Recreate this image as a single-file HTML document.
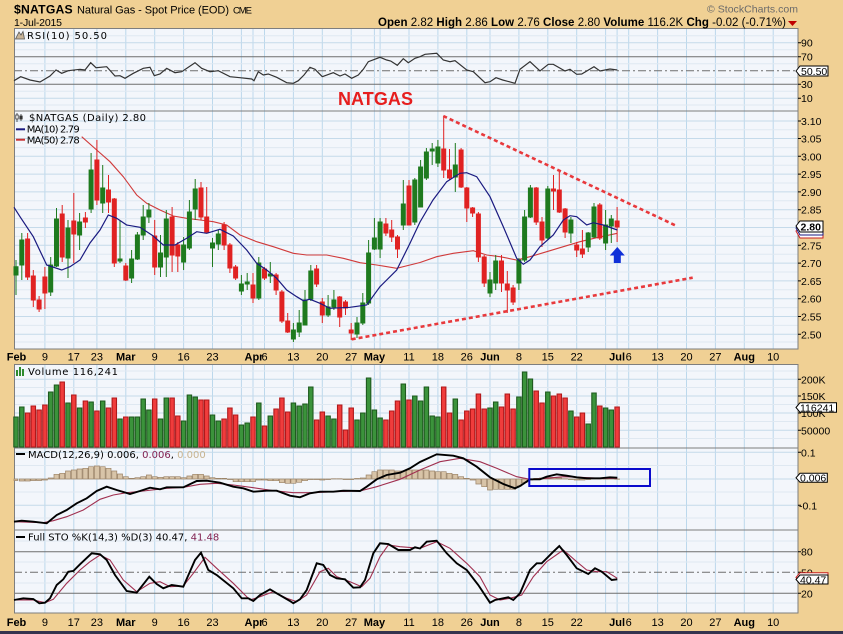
<!DOCTYPE html>
<html><head><meta charset="utf-8"><style>
html,body{margin:0;padding:0;background:#F0D094;}
svg{display:block;}
.ax{font-family:"Liberation Sans",Arial,sans-serif;font-size:10.5px;fill:#000;}
.lg{font-family:"DejaVu Sans","Liberation Sans",sans-serif;font-size:10px;fill:#000;}
.dt{font-family:"Liberation Sans",Arial,sans-serif;font-size:11px;fill:#000;text-anchor:middle;}
.mo{font-weight:bold;}
</style></head><body>
<svg width="843" height="634" viewBox="0 0 843 634" xmlns="http://www.w3.org/2000/svg">
<rect x="0" y="0" width="843" height="634" fill="#F0D094"/>
<!-- panel backgrounds -->
<g fill="#F3F6FB">
<rect x="14" y="28" width="784" height="83"/>
<rect x="14" y="111" width="784" height="238"/>
<rect x="14" y="364" width="784" height="84"/>
<rect x="14" y="448" width="784" height="82"/>
<rect x="14" y="530" width="784" height="83"/>
</g>
<!-- vertical grid -->
<g stroke="#BCD8EC" stroke-width="1">
<path d="M44.9 28V349M73.8 28V349M96.9 28V349M125.8 28V349M154.7 28V349M183.6 28V349M212.5 28V349M241.4 28V349M253 28V349M264.5 28V349M293.4 28V349M322.3 28V349M351.2 28V349M374.4 28V349M380.1 28V349M409 28V349M437.9 28V349M466.8 28V349M490 28V349M518.9 28V349M547.8 28V349M576.7 28V349M605.6 28V349M617.1 28V349M628.7 28V349M657.6 28V349M686.5 28V349M715.4 28V349M744.3 28V349M773.2 28V349"/>
<path d="M44.9 364V613M73.8 364V613M96.9 364V613M125.8 364V613M154.7 364V613M183.6 364V613M212.5 364V613M241.4 364V613M253 364V613M264.5 364V613M293.4 364V613M322.3 364V613M351.2 364V613M374.4 364V613M380.1 364V613M409 364V613M437.9 364V613M466.8 364V613M490 364V613M518.9 364V613M547.8 364V613M576.7 364V613M605.6 364V613M617.1 364V613M628.7 364V613M657.6 364V613M686.5 364V613M715.4 364V613M744.3 364V613M773.2 364V613"/>
</g>
<!-- horizontal minor grid -->
<g stroke="#DFE8F1" stroke-width="1">
<path d="M14 35.7H798M14 49.7H798M14 63.7H798M14 77.5H798M14 91.3H798M14 105H798"/>
<path d="M14 129.8H798M14 147.6H798M14 165.2H798M14 183H798M14 200.8H798M14 218.6H798M14 236.4H798M14 254.2H798M14 272H798M14 289.8H798M14 307.6H798M14 325.4H798M14 342H798"/>
<path d="M14 371H798M14 387.5H798M14 404.5H798M14 421.5H798M14 438.5H798M14 465.5H798M14 492H798M14 518H798M14 541H798M14 562H798M14 583H798M14 603H798"/>
</g>
<g stroke="#C5DAEA" stroke-width="1">
<path d="M14 42.7H798M14 98.3H798"/>
<path d="M14 121H798M14 138.5H798M14 156.3H798M14 174.1H798M14 191.9H798M14 209.7H798M14 227.5H798M14 245.3H798M14 263.1H798M14 280.9H798M14 298.7H798M14 316.5H798M14 334.3H798"/>
<path d="M14 379.3H798M14 396H798M14 413H798M14 430.3H798M14 452.3H798M14 479H798M14 505.3H798"/>
</g>
<!-- RSI/STO level lines -->
<g stroke="#6E6E6E" stroke-width="1">
<path d="M14 56.7H798M14 84.3H798M14 551.7H798M14 593.3H798"/>
</g>
<g stroke="#6E6E6E" stroke-width="1" stroke-dasharray="8,3,2,3">
<path d="M14 70.7H798M14 572.3H798"/>
</g>
<!-- panel borders -->
<g fill="none" stroke="#7E7E7E" stroke-width="1">
<rect x="14.5" y="28.5" width="783.5" height="82.5"/>
<rect x="14.5" y="111" width="783.5" height="238"/>
<rect x="14.5" y="364.5" width="783.5" height="83.5"/>
<rect x="14.5" y="448" width="783.5" height="82"/>
<rect x="14.5" y="530" width="783.5" height="83"/>
</g>

<!-- HEADER -->
<text x="14" y="13.5" font-family="Liberation Sans, Arial, sans-serif" font-size="12.2" font-weight="bold" textLength="58.7">$NATGAS</text>
<text x="77" y="13.5" font-family="Liberation Sans, Arial, sans-serif" font-size="11" textLength="152">Natural Gas - Spot Price (EOD)</text>
<text x="233" y="13.5" font-family="Liberation Sans, Arial, sans-serif" font-size="9.5" textLength="19">CME</text>
<text x="14" y="26" font-family="Liberation Sans, Arial, sans-serif" font-size="10.5" textLength="48">1-Jul-2015</text>
<text x="707" y="12.5" font-family="Liberation Sans, Arial, sans-serif" font-size="10.5" fill="#6a6a6a" textLength="91">© StockCharts.com</text>
<text x="378" y="26" font-family="Liberation Sans, Arial, sans-serif" font-size="11.5" textLength="408" lengthAdjust="spacing"><tspan font-weight="bold">Open</tspan> 2.82 <tspan font-weight="bold">High</tspan> 2.86 <tspan font-weight="bold">Low</tspan> 2.76 <tspan font-weight="bold">Close</tspan> 2.80 <tspan font-weight="bold">Volume</tspan> 116.2K <tspan font-weight="bold">Chg</tspan> -0.02 (-0.71%)</text>
<polygon points="788,21 797,21 792.5,26" fill="#C00000"/>

<!-- RSI PANEL -->
<path d="M15.5 39L19 32L21 35L23 31.5L24.5 39Z" fill="#C8B498" stroke="#555" stroke-width="0.8"/>
<text class="lg" x="27" y="39" textLength="80">RSI(10) 50.50</text>
<polyline fill="none" stroke="#333" stroke-width="1.2" points="14,80.7 20.7,76.7 30,80 40,82 50,76 56,70 61.7,73.3 68.3,70.7 80,69.3 85,70 90.7,62.7 96,67.7 106.7,66.7 115,76 120,75.7 125,78.3 133.3,73.3 143.3,68.3 150,67.3 154.3,75.7 160,74 166.7,68.3 175,72.7 181.7,71.7 195,62.7 201.7,68.3 210,71.7 218.3,70.7 230,76.7 240,77.7 251.7,79 254,80.7 258.3,71.7 263.3,75 268.3,74 276.7,77.3 286.7,82.7 293.3,83.3 298.3,80.7 304,75 310,67.3 315,69.3 322.3,76.7 333.3,72.7 340,76 345,74 351.7,78.3 358.3,75 363.3,69.3 368.3,61.7 380,57.3 386.7,60 390.7,61 397.3,65.3 403.3,58.7 408.3,62.7 415,58.3 420,56.7 425,54.3 436.7,53.3 443.3,60 450,61.7 455,60.7 466.7,70 473.3,71.7 485,82.7 490,81.7 496,77.7 502.7,80 515,83.3 520,69.3 530,61.7 540,71 548.3,64.3 553.3,64.3 565,71 570,69.3 576.7,74.3 581.7,74 594,66.7 600,71 610,69 617.3,70"/>
<text x="338" y="105" font-family="Liberation Sans, Arial, sans-serif" font-size="18" font-weight="bold" fill="#E61E1E" textLength="75">NATGAS</text>
<g class="ax"><text x="801" y="46.5">90</text><text x="801" y="60.5">70</text><text x="801" y="88">30</text><text x="801" y="102">10</text></g>
<g stroke="#000"><path d="M798 42.7h3M798 56.7h3M798 84.3h3M798 98.3h3"/></g>
<polygon points="796,71 800,66 828,66 828,76 800,76" fill="#fff" stroke="#000" stroke-width="1"/>
<text class="ax" x="801" y="75">50.50</text>

<!-- PRICE PANEL -->
<g stroke="#333" stroke-width="0.8" fill="#fff"><path d="M17 113V122M21 114V121"/><rect x="15.8" y="115" width="2.4" height="4"/><rect x="19.8" y="116" width="2.4" height="3" fill="#333"/></g>
<text class="lg" x="29" y="121" textLength="117">$NATGAS (Daily) 2.80</text>
<path d="M16 129.3H25" stroke="#1A1A80" stroke-width="2"/>
<text class="lg" x="26.7" y="132.7" fill="#1A1A80" textLength="53">MA(10) 2.79</text>
<path d="M16 139.7H25" stroke="#C83232" stroke-width="2"/>
<text class="lg" x="26.7" y="143.3" fill="#C83232" textLength="53">MA(50) 2.78</text>

<!-- MA50 -->
<polyline fill="none" stroke="#D03A3A" stroke-width="1.1" points="81.7,136.7 96.7,150 110,161.7 123.3,176.7 136.7,195 146.7,203.3 160,210 173.3,216 186.7,218.3 200,220 213.3,221.7 226.7,225 240,235 256.7,241.7 273.3,246.7 293.3,253.3 306.7,255 326.7,255 343.3,258.3 360,262.7 376.7,265 396.7,268.3 410,265 420,262.5 436.7,256.7 453.3,253.3 473.3,250.7 486.7,255 500,256.7 516.7,260 530,256.7 546.7,251.7 563.3,246.7 580,241.7 596.7,237.7 617.3,233.3"/>
<!-- candles -->
<g stroke="#1E7A1E" stroke-width="1" fill="none"><path d="M16 260V295M21.8 233V280M50.7 257V296M56.5 208V267M68 220V278M79.6 213V250M91.1 153V213M102.7 165V213M120 220V263M131.6 250V283M137.4 232V260M143.2 205V240M148.9 203V223M160.5 235V277M166.3 210V277M183.6 237V270M189.4 200V250M195.2 179V220M212.5 238V267M218.3 230V250M241.4 275V295M247.2 273V290M258.8 257V300M270.3 262V283M293.4 323V342M299.2 310V337M305 290V325M310.8 265V301M328.1 295V317M333.9 290V310M357 317V338M362.8 293V325M368.6 240V305M374.4 218V250M380.1 218V258M403.3 180V230M414.8 178V225M420.6 160V207M426.4 148V180M432.2 143V165M437.9 140V167M455.3 143V192M490 272V297M495.7 255V290M518.9 258V290M524.6 210V262M530.4 185V218M547.8 186V240M570.9 217V243M588.2 232V252M594 203V238M605.6 210V250M611.3 215V243"/></g>
<path fill="#1E7A1E" stroke="#1E7A1E" stroke-width="1" d="M14 266.7h4v8.3h-4zM19.8 240h4v25h-4zM48.7 265h4v27h-4zM54.5 219h4v47h-4zM66 228h4v30h-4zM77.6 222h4v13h-4zM89.1 170h4v39h-4zM100.7 188h4v15h-4zM118 259h4v2h-4zM129.6 259h4v19h-4zM135.4 235h4v24h-4zM141.2 217h4v18h-4zM146.9 210h4v7h-4zM158.5 253h4v14h-4zM164.3 219h4v38h-4zM181.6 245h4v17h-4zM187.4 212h4v36h-4zM193.2 189h4v20h-4zM210.5 243h4v5h-4zM216.3 234h4v10h-4zM239.4 284h4v7h-4zM245.2 282h4v2h-4zM256.8 263h4v35h-4zM268.3 274h4v2h-4zM291.4 330h4v9h-4zM297.2 323h4v9h-4zM303 300h4v25h-4zM308.8 271h4v28h-4zM326.1 307h4v8h-4zM331.9 300h4v7h-4zM355 323h4v11h-4zM360.8 303h4v20h-4zM366.6 253h4v50h-4zM372.4 238h4v11h-4zM378.1 222h4v27h-4zM401.3 204h4v21h-4zM412.8 180h4v42h-4zM418.6 167h4v40h-4zM424.4 152h4v26h-4zM430.2 149h4v2h-4zM435.9 147h4v16h-4zM453.3 165h4v12h-4zM488 280h4v13h-4zM493.7 261h4v22h-4zM516.9 260h4v23h-4zM522.6 217h4v43h-4zM528.4 188h4v29h-4zM545.8 189h4v49h-4zM568.9 220h4v13h-4zM586.2 233h4v14h-4zM592 207h4v30h-4zM603.6 225h4v18h-4zM609.3 219h4v7h-4z"/>
<g stroke="#E02222" stroke-width="1" fill="none"><path d="M27.6 233V280M33.3 270V307M39.1 296V312M44.9 267V309M62.2 205V262M73.8 193V263M85.4 212V228M96.9 140V205M108.5 175V213M114.3 198V267M125.8 263V281M154.7 220V275M172.1 207V272M177.8 242V272M201 182V220M206.7 187V233M224.1 222V250M229.9 243V273M235.6 265V280M253 273V303M264.5 267V280M276.1 273V295M281.9 290V323M287.7 313V333M316.6 265V287M322.3 298V323M339.7 296V327M345.5 300V315M351.2 323V340M385.9 218V236M391.7 220V242M397.5 235V258M409 180V225M443.7 116V178M449.5 149V180M461.1 148V188M466.8 187V222M472.6 207V217M478.4 212V262M484.2 255V287M501.5 255V292M507.3 271V313M513.1 285V305M536.2 187V225M542 217V247M553.5 175V210M559.3 172V213M565.1 208V238M576.7 242V257M582.4 230V258M599.8 203V240M617.1 207V242"/></g>
<path fill="#E02222" stroke="#E02222" stroke-width="1" d="M25.6 239h4v38h-4zM31.3 276h4v24h-4zM37.1 300h4v9h-4zM42.9 277h4v16h-4zM60.2 214h4v43h-4zM71.8 221h4v13h-4zM83.4 218h4v4h-4zM94.9 160h4v40h-4zM106.5 190h4v12h-4zM112.3 199h4v64h-4zM123.8 266h4v14h-4zM152.7 236h4v31h-4zM170.1 217h4v38h-4zM175.8 245h4v11h-4zM199 188h4v29h-4zM204.7 217h4v15h-4zM222.1 225h4v20h-4zM227.9 245h4v23h-4zM233.6 267h4v11h-4zM251 285h4v13h-4zM262.5 269h4v9h-4zM274.1 275h4v15h-4zM279.9 292h4v29h-4zM285.7 321h4v11h-4zM314.6 269h4v15h-4zM320.3 302h4v13h-4zM337.7 297h4v20h-4zM343.5 302h4v6h-4zM349.2 330h4v3h-4zM383.9 224h4v9h-4zM389.7 230h4v7h-4zM395.5 237h4v12h-4zM407 186h4v39h-4zM441.7 149h4v21h-4zM447.5 170h4v8h-4zM459.1 150h4v37h-4zM464.8 188h4v20h-4zM470.6 208h4v5h-4zM476.4 214h4v43h-4zM482.2 257h4v26h-4zM499.5 261h4v22h-4zM505.3 284h4v6h-4zM511.1 288h4v14h-4zM534.2 188h4v34h-4zM540 222h4v18h-4zM551.5 189h4v2h-4zM557.3 190h4v22h-4zM563.1 209h4v23h-4zM574.7 245h4v5h-4zM580.4 249h4v5h-4zM597.8 205h4v33h-4zM615.1 221h4v6h-4z"/>
<!-- MA10 -->
<polyline fill="none" stroke="#1A1A80" stroke-width="1.2" points="14,207.3 20,216.7 33.3,236.7 46.7,265 61.7,270 70,266.7 80,260 90,243 100,230 108.3,215 116.7,218.3 126.7,225 140,227.3 153.3,236 163.3,245 175,245 186.7,238.3 196.7,231.7 206.7,233.3 220,229.3 233.3,236 246.7,250 256.7,263.3 266.7,270 276.7,278.3 286.7,290 296.7,296.7 303.3,300.7 310,299.3 320,303.3 330,308.3 350,307.3 366.7,305 380,286.7 396.7,270 410,243.3 420,222 433,200 446.7,181.7 460,173.3 466.7,172.7 476.7,176.7 490,196.7 503.3,226.7 516.7,258.3 523.3,264.3 530,260 540,246.7 553.3,235 563.3,220 570,215.7 576.7,216.7 586.7,225 593.3,222.7 603.3,225 617.3,230"/>
<!-- trendlines -->
<g stroke="#E8393C" stroke-width="2.6" stroke-dasharray="4,3" fill="none">
<path d="M443.3 116L676.7 226"/>
<path d="M351.7 339.3L692.7 277.7"/>
</g>
<!-- blue arrow -->
<polygon points="617.3,247 624.8,255.5 620.8,255.5 620.8,263 613.8,263 613.8,255.5 609.8,255.5" fill="#1030D8"/>
<!-- price axis -->
<g class="ax"><text x="801" y="125">3.10</text><text x="801" y="142.5">3.05</text><text x="801" y="160.3">3.00</text><text x="801" y="178.1">2.95</text><text x="801" y="195.9">2.90</text><text x="801" y="213.7">2.85</text><text x="801" y="249.3">2.75</text><text x="801" y="267.1">2.70</text><text x="801" y="284.9">2.65</text><text x="801" y="302.7">2.60</text><text x="801" y="320.5">2.55</text><text x="801" y="338.3">2.50</text></g>
<g stroke="#000"><path d="M798 121h3M798 138.5h3M798 156.3h3M798 174.1h3M798 191.9h3M798 209.7h3M798 245.3h3M798 263.1h3M798 280.9h3M798 298.7h3M798 316.5h3M798 334.3h3"/></g>
<polygon points="796,231 800,226 823,226 823,238 800,238" fill="#fff" stroke="#C82020" stroke-width="1"/>
<polygon points="796,228 800,223 823,223 823,235 800,235" fill="#fff" stroke="#1A1A80" stroke-width="1"/>
<polygon points="796,226 800,221 823,221 823,232 800,232" fill="#fff" stroke="#000" stroke-width="1"/>
<text class="ax" x="800.5" y="230.5" font-weight="bold" font-size="11.5">2.80</text>

<!-- date axis (price) -->
<g class="dt">
<text x="16.5" y="360.7" class="mo">Feb</text><text x="44.9" y="360.7">9</text><text x="73.8" y="360.7">17</text><text x="96.9" y="360.7">23</text><text x="125.8" y="360.7" class="mo">Mar</text><text x="154.7" y="360.7">9</text><text x="183.6" y="360.7">16</text><text x="212.5" y="360.7">23</text><text x="254" y="360.7" class="mo">Apr</text><text x="264.5" y="360.7">6</text><text x="293.4" y="360.7">13</text><text x="322.3" y="360.7">20</text><text x="351.2" y="360.7">27</text><text x="374.4" y="360.7" class="mo">May</text><text x="409" y="360.7">11</text><text x="437.9" y="360.7">18</text><text x="466.8" y="360.7">26</text><text x="490" y="360.7" class="mo">Jun</text><text x="518.9" y="360.7">8</text><text x="547.8" y="360.7">15</text><text x="576.7" y="360.7">22</text><text x="617.1" y="360.7" class="mo">Jul</text><text x="628.7" y="360.7">6</text><text x="657.6" y="360.7">13</text><text x="686.5" y="360.7">20</text><text x="715.4" y="360.7">27</text><text x="744.3" y="360.7" class="mo">Aug</text><text x="773.2" y="360.7">10</text>
</g>

<!-- VOLUME PANEL -->
<path fill="#3B933B" stroke="#1E5A1E" stroke-width="1.1" d="M13.8 417h4.4V447h-4.4zM19.6 407h4.4V447h-4.4zM48.5 392h4.4V447h-4.4zM54.3 385h4.4V447h-4.4zM65.8 403h4.4V447h-4.4zM77.4 408h4.4V447h-4.4zM88.9 402h4.4V447h-4.4zM100.5 401h4.4V447h-4.4zM117.8 419h4.4V447h-4.4zM129.4 417h4.4V447h-4.4zM135.2 417h4.4V447h-4.4zM141 399h4.4V447h-4.4zM146.7 410h4.4V447h-4.4zM158.3 419h4.4V447h-4.4zM164.1 398h4.4V447h-4.4zM181.4 421h4.4V447h-4.4zM187.2 395h4.4V447h-4.4zM193 397h4.4V447h-4.4zM210.3 415h4.4V447h-4.4zM216.1 421h4.4V447h-4.4zM239.2 425h4.4V447h-4.4zM245 423h4.4V447h-4.4zM256.6 403h4.4V447h-4.4zM268.1 416h4.4V447h-4.4zM291.2 403h4.4V447h-4.4zM297 406h4.4V447h-4.4zM302.8 404h4.4V447h-4.4zM308.6 387h4.4V447h-4.4zM325.9 416h4.4V447h-4.4zM331.7 419h4.4V447h-4.4zM354.8 420h4.4V447h-4.4zM360.6 413h4.4V447h-4.4zM366.4 378h4.4V447h-4.4zM372.2 410h4.4V447h-4.4zM377.9 418h4.4V447h-4.4zM401.1 384h4.4V447h-4.4zM412.6 396h4.4V447h-4.4zM418.4 401h4.4V447h-4.4zM424.2 387h4.4V447h-4.4zM430 416h4.4V447h-4.4zM435.7 417h4.4V447h-4.4zM453.1 399h4.4V447h-4.4zM487.8 408h4.4V447h-4.4zM493.5 402h4.4V447h-4.4zM516.7 397h4.4V447h-4.4zM522.4 372h4.4V447h-4.4zM528.2 379h4.4V447h-4.4zM545.6 392h4.4V447h-4.4zM568.7 411h4.4V447h-4.4zM586 424h4.4V447h-4.4zM591.8 393h4.4V447h-4.4zM603.4 408h4.4V447h-4.4zM609.1 410h4.4V447h-4.4z"/>
<path fill="#F03C3C" stroke="#B0181A" stroke-width="1.1" d="M25.4 413h4.4V447h-4.4zM31.1 406h4.4V447h-4.4zM36.9 410h4.4V447h-4.4zM42.7 405h4.4V447h-4.4zM60 382h4.4V447h-4.4zM71.6 395h4.4V447h-4.4zM83.2 401h4.4V447h-4.4zM94.7 411h4.4V447h-4.4zM106.3 408h4.4V447h-4.4zM112.1 398h4.4V447h-4.4zM123.6 417h4.4V447h-4.4zM152.5 399h4.4V447h-4.4zM169.9 398h4.4V447h-4.4zM175.6 416h4.4V447h-4.4zM198.8 400h4.4V447h-4.4zM204.5 400h4.4V447h-4.4zM221.9 419h4.4V447h-4.4zM227.7 408h4.4V447h-4.4zM233.4 415h4.4V447h-4.4zM250.8 417h4.4V447h-4.4zM262.3 426h4.4V447h-4.4zM273.9 409h4.4V447h-4.4zM279.7 398h4.4V447h-4.4zM285.5 412h4.4V447h-4.4zM314.4 420h4.4V447h-4.4zM320.1 412h4.4V447h-4.4zM337.5 405h4.4V447h-4.4zM343.3 430h4.4V447h-4.4zM349 408h4.4V447h-4.4zM383.7 420h4.4V447h-4.4zM389.5 411h4.4V447h-4.4zM395.3 401h4.4V447h-4.4zM406.8 400h4.4V447h-4.4zM441.5 387h4.4V447h-4.4zM447.3 413h4.4V447h-4.4zM458.9 420h4.4V447h-4.4zM464.6 411h4.4V447h-4.4zM470.4 409h4.4V447h-4.4zM476.2 394h4.4V447h-4.4zM482 409h4.4V447h-4.4zM499.3 407h4.4V447h-4.4zM505.1 394h4.4V447h-4.4zM510.9 409h4.4V447h-4.4zM534 391h4.4V447h-4.4zM539.8 403h4.4V447h-4.4zM551.3 396h4.4V447h-4.4zM557.1 394h4.4V447h-4.4zM562.9 398h4.4V447h-4.4zM574.5 417h4.4V447h-4.4zM580.2 413h4.4V447h-4.4zM597.6 406h4.4V447h-4.4zM614.9 407h4.4V447h-4.4z"/>
<g fill="#2E8B2E"><rect x="16" y="370" width="2" height="6"/><rect x="19" y="367" width="2" height="9"/><rect x="22" y="369" width="2" height="7"/></g>
<text class="lg" x="28" y="375" textLength="90">Volume 116,241</text>
<g class="ax"><text x="801" y="383.3">200K</text><text x="801" y="400">150K</text><text x="801" y="417">100K</text><text x="801" y="434.3">50000</text></g>
<g stroke="#000"><path d="M798 379.3h3M798 396h3M798 413h3M798 430.3h3"/></g>
<polygon points="796,407.5 800,402.7 836.5,402.7 836.5,412.3 800,412.3" fill="#fff" stroke="#000" stroke-width="1"/>
<text class="ax" x="800" y="411.5">116241</text>

<!-- MACD PANEL -->
<path fill="#D8C4A8" stroke="#9C8468" stroke-width="0.7" d="M14 480.5h3.8V479h-3.8zM19.3 481h5V479h-5zM25.1 481h5V479h-5zM30.8 480.5h5V479h-5zM36.6 480.5h5V479h-5zM42.4 480h5V479h-5zM48.2 478h5V479h-5zM54 474.3h5V479h-5zM59.7 473.3h5V479h-5zM65.5 471h5V479h-5zM71.3 470h5V479h-5zM77.1 469h5V479h-5zM82.9 468.3h5V479h-5zM88.6 466.7h5V479h-5zM94.4 466h5V479h-5zM100.2 466.7h5V479h-5zM106 468.3h5V479h-5zM111.8 471h5V479h-5zM117.5 474h5V479h-5zM123.3 476.7h5V479h-5zM129.1 478.3h5V479h-5zM134.9 477.7h5V479h-5zM140.7 476.7h5V479h-5zM146.4 475h5V479h-5zM152.2 476.7h5V479h-5zM158 477.3h5V479h-5zM163.8 476.7h5V479h-5zM169.6 476.7h5V479h-5zM175.3 476.7h5V479h-5zM181.1 477.7h5V479h-5zM186.9 476h5V479h-5zM192.7 474.3h5V479h-5zM198.5 474.3h5V479h-5zM204.2 476h5V479h-5zM210 477.7h5V479h-5zM215.8 478.3h5V479h-5zM221.6 478.3h5V479h-5zM227.4 479.5h5V479h-5zM233.1 481.7h5V479h-5zM238.9 481.7h5V479h-5zM244.7 481.7h5V479h-5zM250.5 481.7h5V479h-5zM256.3 480h5V479h-5zM262 480h5V479h-5zM267.8 480.7h5V479h-5zM273.6 480.7h5V479h-5zM279.4 482.7h5V479h-5zM285.2 483.3h5V479h-5zM290.9 483.3h5V479h-5zM296.7 482.3h5V479h-5zM302.5 480.7h5V479h-5zM308.3 479.5h5V479h-5zM314.1 479.5h5V479h-5zM319.8 480h5V479h-5zM325.6 479.5h5V479h-5zM331.4 478.7h5V479h-5zM337.2 478.7h5V479h-5zM343 479.5h5V479h-5zM348.7 479.5h5V479h-5zM354.5 478.5h5V479h-5zM360.3 478h5V479h-5zM366.1 475h5V479h-5zM371.9 471.7h5V479h-5zM377.6 470h5V479h-5zM383.4 470h5V479h-5zM389.2 470h5V479h-5zM395 471h5V479h-5zM400.8 471h5V479h-5zM406.5 470h5V479h-5zM412.3 470h5V479h-5zM418.1 470h5V479h-5zM423.9 470h5V479h-5zM429.7 471h5V479h-5zM435.4 471.7h5V479h-5zM441.2 471.7h5V479h-5zM447 473.3h5V479h-5zM452.8 474.3h5V479h-5zM458.6 476.7h5V479h-5zM464.3 478.3h5V479h-5zM470.1 480h5V479h-5zM475.9 484h5V479h-5zM481.7 486.7h5V479h-5zM487.5 490h5V479h-5zM493.2 489.3h5V479h-5zM499 489.3h5V479h-5zM504.8 489.3h5V479h-5zM510.6 489.3h5V479h-5zM516.4 486h5V479h-5zM522.1 482.7h5V479h-5zM527.9 480h5V479h-5zM533.7 478.3h5V479h-5zM539.5 478h5V479h-5zM545.3 477.5h5V479h-5zM551 477.5h5V479h-5zM556.8 478h5V479h-5zM562.6 478.7h5V479h-5zM568.4 479.5h5V479h-5zM574.2 480h5V479h-5zM579.9 480h5V479h-5zM585.7 479.5h5V479h-5zM591.5 478.5h5V479h-5zM597.3 478.7h5V479h-5zM603.1 479.2h5V479h-5zM608.8 478.7h5V479h-5zM614.6 479.3h5V479h-5z"/>
<polyline fill="none" stroke="#A03050" stroke-width="1.1" points="14,521.7 43.3,522.7 53.3,520.7 66.7,516.7 83.3,510 100,499.3 113.3,495 126.7,492.7 143.3,491 166.7,488.3 183.3,487.3 200,484.3 216.7,483.3 233.3,485 253.3,487.7 273.3,490.7 293.3,492.7 313.3,492.7 333.3,491.7 360,491 376.7,486.7 400,479.3 420,470 440,461.7 460,458.3 480,461.7 496.7,468.3 516.7,476.7 530,479.3 546.7,478.3 563.3,476.7 580,477.3 600,478.3 617.3,478.3"/>
<polyline fill="none" stroke="#000" stroke-width="1.9" points="14,521.7 21.7,520.7 33.3,521.7 46.7,523.3 56.7,515 66.7,510 76.7,503.3 86.7,498.3 96.7,491 106.7,486.7 116.7,490 130,494 140,491 150,487.7 160,489.3 166.7,487.3 183.3,487.3 196.7,481 206.7,480.7 220,482.7 233.3,486.7 243.3,488.3 253.3,491.7 266.7,490.7 276.7,490.7 290,495.7 300,497.3 310,493.3 320,491.7 333.3,491.7 343.3,490.7 360,491 366.7,486.7 376.7,479.3 386.7,475 400,472.7 410,468.3 420,462 436.7,454.3 453.3,455.7 463.3,458.3 476.7,466.7 490,477.3 503.3,484 515,488.3 520,486 530,479.3 540,479.3 546.7,476.7 556.7,474.3 566.7,475.7 576.7,477.3 586.7,478.3 600,478.3 610,477.3 617.3,477.7"/>
<rect x="529.3" y="469" width="120.7" height="17" fill="none" stroke="#0A0ACC" stroke-width="2"/>
<path d="M16 454H25" stroke="#000" stroke-width="2"/>
<text class="lg" x="28" y="458"><tspan>MACD(12,26,9) 0.006, </tspan><tspan fill="#802050">0.006</tspan><tspan>, </tspan><tspan fill="#C8B490">0.000</tspan></text>
<g class="ax"><text x="801" y="456.3">0.1</text><text x="799" y="509.3">-0.1</text></g>
<g stroke="#000"><path d="M798 452.3h3M798 505.3h3"/></g>
<polygon points="796,477.8 800,473.3 827.3,473.3 827.3,482.3 800,482.3" fill="#fff" stroke="#000" stroke-width="1"/>
<text class="ax" x="800" y="481.5">0.006</text>

<!-- STO PANEL -->
<polyline fill="none" stroke="#A03050" stroke-width="1.1" points="14,600 33.3,600 45,602.7 53.3,599.3 66.7,583.3 80,570 90,561.7 100,555 110,560 123.3,580 136.7,591.7 150,583.3 160,581.7 170,586.7 183.3,586 193.3,573.3 205,557.3 216.7,568.3 233.3,583.3 250,600 260,596.7 273.3,591.7 286.7,598.3 296.7,601.7 306.7,595 320,571.7 328.3,568.3 336.7,576.7 350,581.7 361.7,586.7 370,578.3 380,556.7 388.3,545 400,546.7 420,548.3 436.7,541.7 450,548.3 466.7,563.3 480,576.7 490,595 500,600 510,598.3 521.7,595 533.3,576.7 546.7,561.7 563.3,550 576.7,561.7 586.7,570 596.7,571.7 606.7,571.7 617.3,578.3"/>
<polyline fill="none" stroke="#000" stroke-width="1.9" points="14,600 23.3,598.3 33.3,599 39.3,603.3 45,602.7 50,598.3 56.7,585 63.3,579.3 68.3,571.7 73.3,571 80,564.3 91.7,553.3 100,554.3 106.7,560 115,575 126.7,591 136.7,592.7 149.3,576.7 156.7,584 163.3,588.3 171.7,585 183.3,586.7 195,560 201,552.7 208.3,570 216.7,575 233.3,588.3 241.7,598.3 248.3,598.3 253.3,601 260,595 270,589.3 276.7,593.3 290,601 293.3,603.3 300,599.3 306.7,590 316.7,563.3 323.3,565 330,575 336.7,578.3 345,579.3 353.3,587.7 360,587.3 365,580 373.3,553.3 380,543.3 388.3,544 398.3,550 410,550 415,547.3 420,548.5 426.7,541.7 436.7,540.7 446.7,553.3 456.7,563.3 466.7,570 478.3,585 490,602.7 495,600 508.3,597.3 513.3,600 520,593.3 530,570 536.7,563.3 541.7,563.3 553.3,551.7 559.3,546 566.7,555 576.7,568.3 588.3,574 595,568.3 601.7,571.7 611.7,580 617.3,579.3"/>
<path d="M16 537H25" stroke="#000" stroke-width="2"/>
<text class="lg" x="28" y="540.7"><tspan>Full STO %K(14,3) %D(3) 40.47, </tspan><tspan fill="#802050">41.48</tspan></text>
<g class="ax"><text x="801" y="555.7">80</text><text x="801" y="576.3">50</text><text x="801" y="597.3">20</text></g>
<g stroke="#000"><path d="M798 551.7h3M798 572.3h3M798 593.3h3"/></g>
<polygon points="796,577.5 800,572.7 828,572.7 828,582 800,582" fill="#fff" stroke="#C82020" stroke-width="1"/>
<polygon points="796,579.5 800,575 828,575 828,584 800,584" fill="#fff" stroke="#000" stroke-width="1"/>
<text class="ax" x="800" y="583.3">40.47</text>

<!-- bottom date axis -->
<g class="dt">
<text x="16.5" y="626" class="mo">Feb</text><text x="44.9" y="626">9</text><text x="73.8" y="626">17</text><text x="96.9" y="626">23</text><text x="125.8" y="626" class="mo">Mar</text><text x="154.7" y="626">9</text><text x="183.6" y="626">16</text><text x="212.5" y="626">23</text><text x="254" y="626" class="mo">Apr</text><text x="264.5" y="626">6</text><text x="293.4" y="626">13</text><text x="322.3" y="626">20</text><text x="351.2" y="626">27</text><text x="374.4" y="626" class="mo">May</text><text x="409" y="626">11</text><text x="437.9" y="626">18</text><text x="466.8" y="626">26</text><text x="490" y="626" class="mo">Jun</text><text x="518.9" y="626">8</text><text x="547.8" y="626">15</text><text x="576.7" y="626">22</text><text x="617.1" y="626" class="mo">Jul</text><text x="628.7" y="626">6</text><text x="657.6" y="626">13</text><text x="686.5" y="626">20</text><text x="715.4" y="626">27</text><text x="744.3" y="626" class="mo">Aug</text><text x="773.2" y="626">10</text>
</g>
<rect x="0" y="631" width="843" height="3" fill="#34344F"/>
</svg>
</body></html>
